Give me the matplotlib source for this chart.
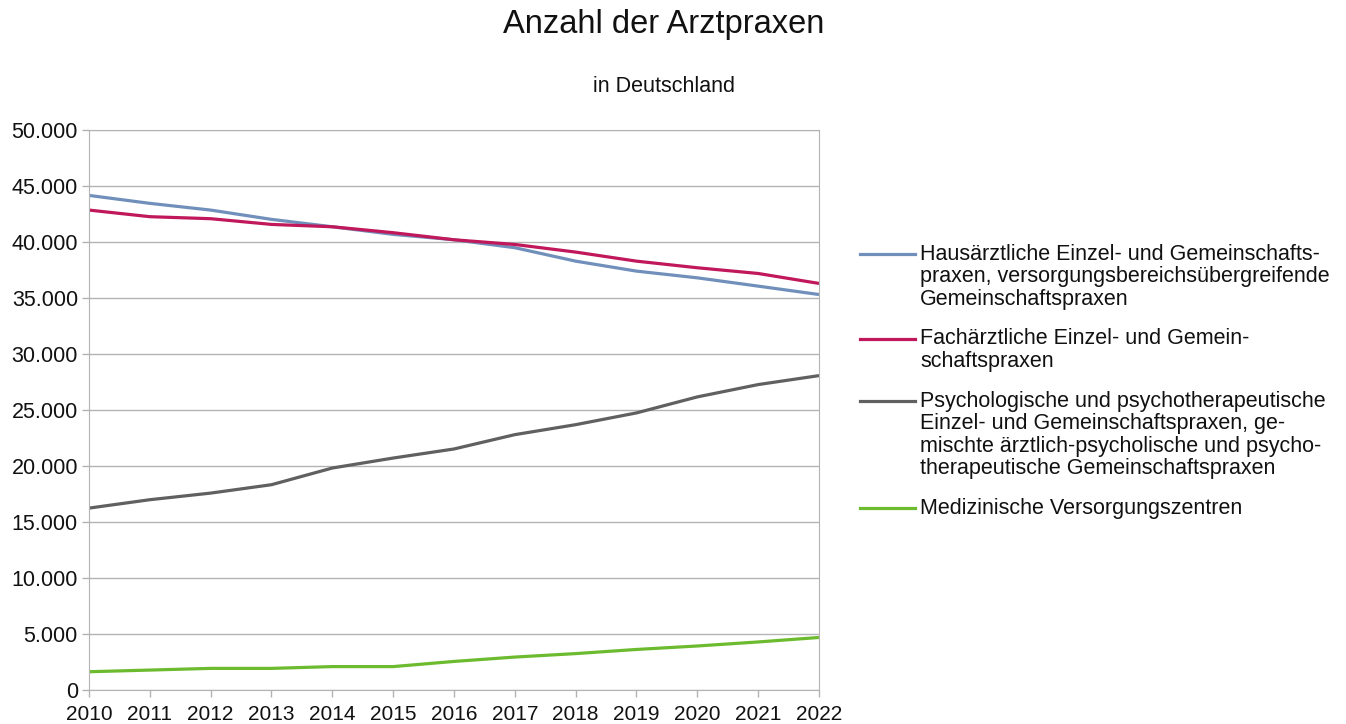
import matplotlib
matplotlib.use('Agg')
import matplotlib.pyplot as plt
from matplotlib.lines import Line2D
from matplotlib.ticker import FuncFormatter

plt.rcParams['font.family'] = ['Liberation Sans', 'DejaVu Sans']

# Daten
jahre = [2010, 2011, 2012, 2013, 2014, 2015, 2016, 2017, 2018, 2019, 2020, 2021, 2022]
hausarzt = [44160, 43450, 42850, 42020, 41360, 40680, 40200, 39490, 38290, 37400, 36800, 36060, 35310]
facharzt = [42850, 42260, 42080, 41570, 41360, 40830, 40200, 39780, 39100, 38290, 37700, 37190, 36300]
psycho = [16240, 16990, 17580, 18330, 19820, 20710, 21520, 22800, 23690, 24740, 26170, 27270, 28070]
mvz = [1630, 1780, 1930, 1930, 2090, 2090, 2550, 2940, 3250, 3620, 3930, 4290, 4690]

namen = ['Hausärztliche Einzel- und Gemeinschafts-\npraxen, versorgungsbereichsübergreifende\nGemeinschaftspraxen',
         'Fachärztliche Einzel- und Gemein-\nschaftspraxen',
         'Psychologische und psychotherapeutische\nEinzel- und Gemeinschaftspraxen, ge-\nmischte ärztlich-psycholische und psycho-\ntherapeutische Gemeinschaftspraxen',
         'Medizinische Versorgungszentren']
farben = ['#7090bb', '#c0185a', '#606060', '#6cbb2f']

W, H = 1346, 724
fig = plt.figure(figsize=(W/100, H/100), dpi=100)
ax = fig.add_axes([89/W, 34/H, 730/W, 560/H])

for serie, farbe in zip([hausarzt, facharzt, psycho, mvz], farben):
    ax.plot(jahre, serie, color=farbe, lw=2.3, solid_capstyle='butt')

ax.set_xlim(2010, 2022)
ax.set_ylim(0, 50000)
ax.set_xticks(jahre)
ax.set_yticks(range(0, 50001, 5000))
ax.yaxis.set_major_formatter(FuncFormatter(lambda v, p: f'{int(v):,}'.replace(',', '.')))
ax.grid(axis='y', color='#b3b3b3', lw=1)
ax.set_axisbelow(True)
for s in ax.spines.values():
    s.set_color('#b3b3b3')
ax.tick_params(colors='#b3b3b3', labelcolor='#111111', labelsize=15.5, length=5, width=1)
ax.tick_params(axis='x', pad=6, labelsize=15)
ax.tick_params(axis='y', pad=3)

# Titel
fig.text(664/W, 1-25/H, 'Anzahl der Arztpraxen', ha='center', va='center', fontsize=23.5, color='#111111')
fig.text(664/W, 1-86/H, 'in Deutschland', ha='center', va='center', fontsize=15.5, color='#111111')

# Legende
y = 254
for name, farbe in zip(namen, farben):
    fig.add_artist(Line2D([860/W, 915/W], [1-y/H, 1-y/H], color=farbe, lw=2.3, transform=fig.transFigure))
    for zeile in name.split('\n'):
        fig.text(920/W, 1-y/H, zeile, ha='left', va='center', fontsize=15.5, color='#111111')
        y += 22.6
    y += 17

fig.savefig('out.png', dpi=100)
